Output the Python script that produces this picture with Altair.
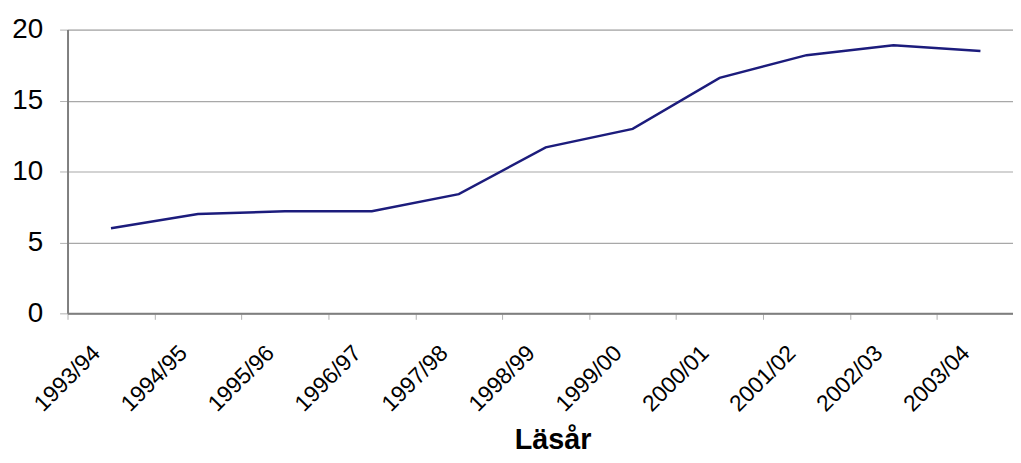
import altair as alt
import pandas as pd

years = ["1993/94", "1994/95", "1995/96", "1996/97", "1997/98", "1998/99",
         "1999/00", "2000/01", "2001/02", "2002/03", "2003/04"]
values = [6.0, 7.0, 7.2, 7.2, 8.4, 11.7, 13.0, 16.6, 18.2, 18.9, 18.5]

df = pd.DataFrame({"year": years, "value": values})

FONT = "Liberation Sans"

chart = alt.Chart(df).mark_line(color="#1c1c7c", strokeWidth=2.5).encode(
    x=alt.X("year:N", sort=years,
            scale=alt.Scale(paddingInner=0, paddingOuter=0),
            axis=alt.Axis(title="Läsår", labelAngle=-45, labelAlign="right",
                          labelBaseline="middle", labelFontSize=23, labelFont=FONT,
                          labelColor="black", labelPadding=30, labelOffset=-15,
                          tickBand="extent", tickSize=6, tickColor="#b0b0b0",
                          domainColor="#7f7f7f", domainWidth=2,
                          titleFont=FONT, titleFontSize=29, titleFontWeight="bold",
                          titleColor="black", titleX=489, titleY=136,
                          titleBaseline="alphabetic", titleAlign="center",
                          titleAnchor="start", grid=False)),
    y=alt.Y("value:Q",
            scale=alt.Scale(domain=[0, 20], nice=False),
            axis=alt.Axis(title=None, values=[0, 5, 10, 15, 20], labelFontSize=28,
                          labelFont=FONT, labelColor="black", labelPadding=17,
                          tickSize=8, tickColor="#b0b0b0", domainColor="#7f7f7f",
                          domainWidth=2, gridColor="#a8a8a8", gridWidth=1.2)),
).properties(
    width=964, height=286,
    autosize=alt.AutoSizeParams(type="none"),
    padding={"left": 60, "top": 20, "right": -11, "bottom": 141},
).configure_view(stroke=None).configure(background="white")

chart.save("out.html", embed_options={"renderer": "svg", "actions": False})
